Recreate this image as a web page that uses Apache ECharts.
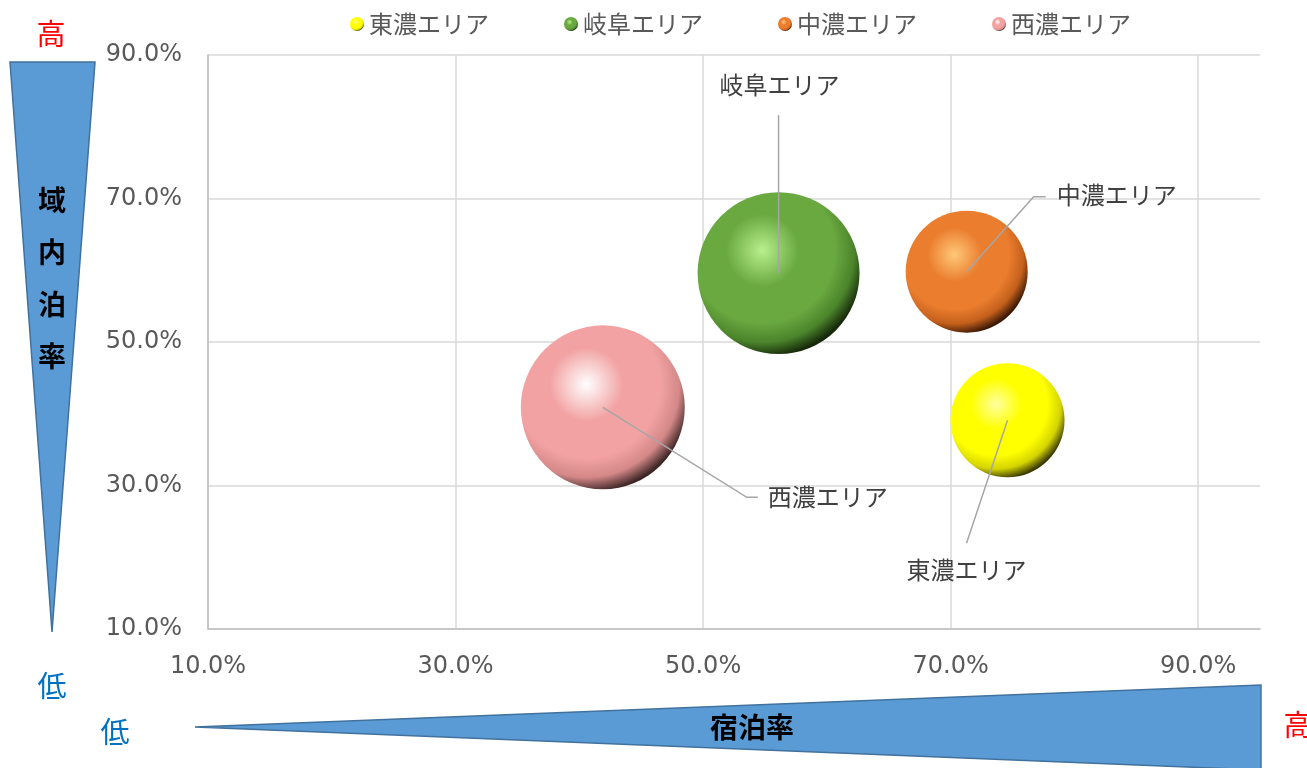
<!DOCTYPE html>
<html>
<head>
<meta charset="utf-8">
<script src="https://cdn.jsdelivr.net/npm/echarts@6/dist/echarts.min.js"></script>
<style>
  html, body { margin: 0; padding: 0; background: #fff; }
  #main { width: 1307px; height: 768px; }
</style>
</head>
<body>
<div id="main"></div>
<script>
// エリア別 宿泊率 / 域内泊率 (%)
var areas = ['東濃エリア', '岐阜エリア', '中濃エリア', '西濃エリア'];
var stayRate = [74.6, 56.1, 71.3, 41.9];      // 宿泊率 (x)
var inAreaRate = [39.1, 59.6, 59.8, 40.9];    // 域内泊率 (y)
var bubbleSize = [3250, 6560, 3720, 6720];    // バブルサイズ
var xTicks = [10, 30, 50, 70, 90];
var yTicks = [10, 30, 50, 70, 90];

// 球っぽい色 [ハイライト, 基本色, 影, 縁]
var sphereColors = [
  ['#ffffa0', '#ffff00', '#d4d400', '#3a3a00'],
  ['#b8f08c', '#6aa840', '#4b842b', '#15280a'],
  ['#ffc878', '#ea7d2e', '#c4601c', '#3a1804'],
  ['#ffffff', '#f2a2a2', '#d48888', '#3e2626']
];
// ラベルの引き出し線 (中心からのpx)
var labelLayouts = [
  { line: [[0, 0], [-41, 123]], text: [-41, 150], align: 'center' },
  { line: [[0, 0], [0, -158]], text: [1, -188], align: 'center' },
  { line: [[0, 0], [67, -75], [79, -75]], text: [90, -77], align: 'left' },
  { line: [[0, 0], [144, 90], [155, 90]], text: [165, 90], align: 'left' }
];

function sphere(c) {
  return {
    type: 'radial', x: 0.4, y: 0.36, r: 0.66,
    colorStops: [
      { offset: 0, color: c[0] },
      { offset: 0.34, color: c[1] },
      { offset: 0.68, color: c[1] },
      { offset: 0.86, color: c[2] },
      { offset: 1, color: c[3] }
    ]
  };
}

var myChart = echarts.init(document.getElementById('main'));
var numFont = 'DejaVu Sans';
var jpFont = 'Noto Sans CJK JP';

var series = areas.map(function (name, i) {
  return {
    name: name,
    type: 'scatter',
    data: [[stayRate[i], inAreaRate[i], bubbleSize[i]]],
    symbolSize: function (v) { return 2 * Math.sqrt(v[2]); },
    itemStyle: { color: sphere(sphereColors[i]), opacity: 1 },
    emphasis: { disabled: true },
    z: 2
  };
});

series.push({
  name: 'labels',
  type: 'custom',
  z: 5,
  silent: true,
  data: areas.map(function (n, i) { return [stayRate[i], inAreaRate[i], i]; }),
  renderItem: function (params, api) {
    var c = api.coord([api.value(0), api.value(1)]);
    var lay = labelLayouts[params.dataIndex];
    var pts = lay.line.map(function (p) { return [c[0] + p[0], c[1] + p[1]]; });
    return {
      type: 'group',
      children: [
        { type: 'polyline', shape: { points: pts },
          style: { stroke: '#a6a6a6', lineWidth: 1.5, fill: null } },
        { type: 'text', x: c[0] + lay.text[0], y: c[1] + lay.text[1],
          style: { text: areas[params.dataIndex], fill: '#404040', font: '24px "' + jpFont + '"',
                   align: lay.align, verticalAlign: 'middle' } }
      ]
    };
  }
});

function pct(v) {
  return xTicks.indexOf(v) >= 0 || yTicks.indexOf(v) >= 0 ? v.toFixed(1) + '%' : '';
}

myChart.setOption({
  animation: false,
  backgroundColor: '#fff',
  grid: { left: 208, right: 47, top: 55, bottom: 139 },
  legend: {
    data: areas,
    left: 345, top: 7,
    icon: 'circle', itemWidth: 14, itemHeight: 14, itemGap: 75,
    textStyle: { fontFamily: jpFont, fontSize: 24, color: '#595959' }
  },
  xAxis: {
    type: 'value', min: 10, max: 95, interval: 20,
    axisLine: { show: true, lineStyle: { color: '#bfbfbf', width: 1.5 } },
    axisTick: { show: false },
    axisLabel: { formatter: pct, fontFamily: numFont, fontSize: 24, color: '#595959', margin: 26,
                 showMaxLabel: false },
    splitLine: { show: true, showMaxLine: false, lineStyle: { color: '#d9d9d9', width: 1.5 } }
  },
  yAxis: {
    type: 'value', min: 10, max: 90, interval: 20,
    axisLine: { show: true, lineStyle: { color: '#bfbfbf', width: 1.5 } },
    axisTick: { show: false },
    axisLabel: { formatter: pct, fontFamily: numFont, fontSize: 24, color: '#595959', margin: 26 },
    splitLine: { show: true, lineStyle: { color: '#d9d9d9', width: 1.5 } }
  },
  graphic: [
    { type: 'polygon', shape: { points: [[10, 62], [95, 62], [52, 632]] },
      style: { fill: '#5b9bd5', stroke: '#41719c', lineWidth: 1.5 } },
    { type: 'text', x: 52, y: 200, style: { text: '域\n内\n泊\n率', font: 'bold 28px "' + jpFont + '"',
      fill: '#000', align: 'center', verticalAlign: 'top', lineHeight: 52 }, top: 174, left: 38 },
    { type: 'polygon', shape: { points: [[195, 727], [1261, 685], [1261, 770]] },
      style: { fill: '#5b9bd5', stroke: '#41719c', lineWidth: 1.5 } },
    { type: 'text', x: 752, y: 727, style: { text: '宿泊率', font: 'bold 28px "' + jpFont + '"',
      fill: '#000', align: 'center', verticalAlign: 'middle' } },
    { type: 'text', x: 51, y: 34, style: { text: '高', font: '29px "' + jpFont + '"',
      fill: '#ff0000', align: 'center', verticalAlign: 'middle' } },
    { type: 'text', x: 52, y: 686, style: { text: '低', font: '29px "' + jpFont + '"',
      fill: '#0070c0', align: 'center', verticalAlign: 'middle' } },
    { type: 'text', x: 115, y: 732, style: { text: '低', font: '29px "' + jpFont + '"',
      fill: '#0070c0', align: 'center', verticalAlign: 'middle' } },
    { type: 'text', x: 1298, y: 725, style: { text: '高', font: '29px "' + jpFont + '"',
      fill: '#ff0000', align: 'center', verticalAlign: 'middle' } }
  ],
  series: series
});
</script>
</body>
</html>
